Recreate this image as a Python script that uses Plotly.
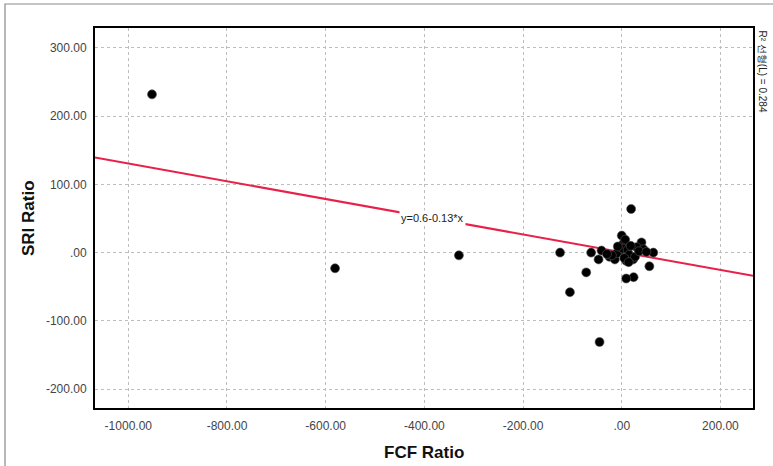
import plotly.graph_objects as go

# Data
fcf_ratio = [-952, -581, -330, -125, -72, -105, -45, 19, -62, -47, -41, -25, -14, 0, 3, 7,
             40, 30, 64, 56, 24, 9, 9, 23, 44, -4, -10, 2, 12, 15, -20, -30, 5, 18, 27, 35, -8, 14, 50]
sri_ratio = [232, -23, -4, 0, -29, -58, -131, 64, 0, -10, 3, -6, -10, 25, 13, 19,
             15, 8, 0, -20, -36, -38, -12, -10, 5, 3, -1, 6, 4, -3, -4, -2, -8, 10, -6, 2, 9, -14, 1]

fit_intercept = 0.6
fit_slope = -0.13
fit_label = "y=0.6-0.13*x"
r2_label = "R² 선형(L) = 0.284"

x_tick_vals = [-1000, -800, -600, -400, -200, 0, 200]
x_tick_text = ["-1000.00", "-800.00", "-600.00", "-400.00", "-200.00", ".00", "200.00"]
y_tick_vals = [300, 200, 100, 0, -100, -200]
y_tick_text = ["300.00", "200.00", "100.00", ".00", "-100.00", "-200.00"]

x_range = [-1067.5, 266]
y_range = [-227.8, 329.3]

fit_x = x_range
fit_y = [fit_intercept + fit_slope * v for v in fit_x]

fig = go.Figure()
fig.add_trace(go.Scatter(x=fit_x, y=fit_y, mode="lines",
                         line=dict(color="#e8214a", width=2), hoverinfo="skip"))
fig.add_trace(go.Scatter(x=fcf_ratio, y=sri_ratio, mode="markers",
                         marker=dict(color="black", size=9,
                                     line=dict(color="#555555", width=0.6))))

label_x = -384
fig.add_annotation(x=label_x, y=fit_intercept + fit_slope * label_x, text=fit_label,
                   showarrow=False, bgcolor="white",
                   font=dict(family="Liberation Sans, Arial", size=11, color="#222222"),
                   borderpad=1)

fig.add_annotation(xref="paper", yref="paper", x=1.0, y=1.0, xanchor="left", yanchor="top",
                   xshift=2, text=r2_label, textangle=90, showarrow=False,
                   font=dict(family="Liberation Sans, Arial", size=10, color="#222222"))

fig.add_annotation(xref="paper", yref="paper", x=0.5, y=0, yanchor="middle",
                   yshift=-44, text="<b>FCF Ratio</b>", showarrow=False,
                   font=dict(family="Liberation Sans, Arial", size=17, color="#111111"))
fig.add_annotation(xref="paper", yref="paper", x=0, y=0.5, xanchor="center",
                   xshift=-67, text="<b>SRI Ratio</b>", textangle=-90, showarrow=False,
                   font=dict(family="Liberation Sans, Arial", size=17, color="#111111"))

# outer frame
fig.add_shape(type="rect", xref="paper", yref="paper",
              x0=(5 - 95) / 658, x1=(780 - 95) / 658,
              y0=(408 - 480) / 380, y1=(408 - 4) / 380,
              line=dict(color="#8a8a8a", width=1.2), fillcolor="rgba(0,0,0,0)", layer="below")

grid = dict(showgrid=True, gridcolor="#bdbdbd", griddash="dot", gridwidth=1,
            zeroline=False, showline=True, linecolor="black", linewidth=2, mirror=True,
            ticks="", tickfont=dict(family="Liberation Sans, Arial", size=12, color="#444444"))

fig.update_layout(
    width=773, height=466,
    margin=dict(l=95, r=20, t=28, b=58),
    paper_bgcolor="white", plot_bgcolor="white",
    showlegend=False,
    xaxis=dict(range=x_range, tickvals=x_tick_vals, ticktext=x_tick_text, **grid),
    yaxis=dict(range=y_range, tickvals=y_tick_vals, ticktext=y_tick_text, **grid),
)
fig.update_xaxes(ticklabelstandoff=6)
fig.update_yaxes(ticklabelstandoff=4)

fig.write_html("out.html")
